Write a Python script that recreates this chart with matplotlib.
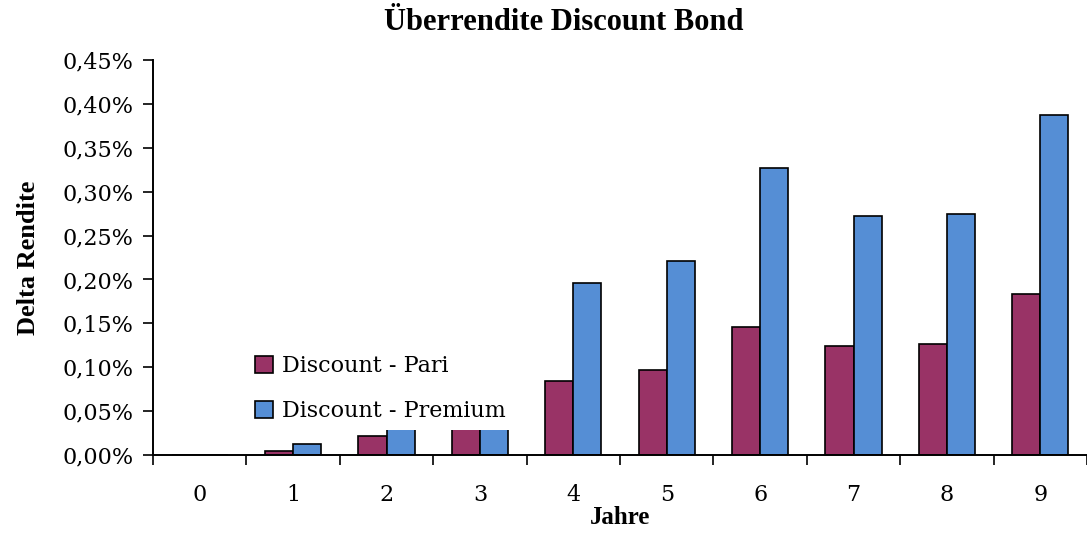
import matplotlib.pyplot as plt
import numpy as np
from matplotlib.ticker import FuncFormatter, FixedLocator
from matplotlib.patches import Rectangle

years = [0, 1, 2, 3, 4, 5, 6, 7, 8, 9]
pari = [0.0, 0.0046, 0.0216, 0.040, 0.0843, 0.0968, 0.146, 0.124, 0.126, 0.183]
premium = [0.0, 0.0125, 0.040, 0.050, 0.196, 0.221, 0.327, 0.272, 0.275, 0.387]

plt.rcParams['font.family'] = ['DejaVu Serif']

fig = plt.figure(figsize=(10.87, 5.35), dpi=100)
ax = fig.add_axes([153 / 1087, 80 / 535, 934 / 1087, 395 / 535])

x = np.arange(len(years))
w = 0.3
ax.bar(x - w / 2, pari, w, color='#993366', edgecolor='black', linewidth=1.2,
       label='Discount - Pari', zorder=2)
ax.bar(x + w / 2, premium, w, color='#558ED5', edgecolor='black', linewidth=1.2,
       label='Discount - Premium', zorder=2)

ax.set_xlim(-0.5, 9.5)
ax.set_ylim(0, 0.45)
ax.set_yticks(np.arange(0, 0.451, 0.05))
ax.yaxis.set_major_formatter(FuncFormatter(lambda v, p: f'{v:.2f}%'.replace('.', ',')))
ax.set_xticks(x)
ax.set_xticklabels([str(y) for y in years])
ax.xaxis.set_minor_locator(FixedLocator(np.arange(-0.5, 9.6, 1)))
ax.tick_params(axis='x', which='major', length=0, pad=21, labelsize=16)
ax.tick_params(axis='x', which='minor', length=7, width=1.2, direction='out')
ax.tick_params(axis='y', length=7, width=1.2, direction='out', labelsize=16, pad=7)

for s in ['top', 'right']:
    ax.spines[s].set_visible(False)
for s in ['left', 'bottom']:
    ax.spines[s].set_linewidth(1.4)

fig.text(564 / 1087, 1 - 22 / 535, 'Überrendite Discount Bond', fontsize=22,
         fontweight='bold', family='Liberation Serif', ha='center', va='center')
ax.set_xlabel('Jahre', fontsize=18, fontweight='bold', family='Liberation Serif',
              labelpad=0)
ax.set_ylabel('Delta Rendite', fontsize=19, fontweight='bold', family='Liberation Serif',
              labelpad=16)

# white box behind the legend, hides the low bars as in the original
ax.add_patch(Rectangle((0.1, 0.063), 0.3, 0.23, transform=ax.transAxes,
                       facecolor='white', edgecolor='none', zorder=4))
leg = ax.legend(loc='upper left', bbox_to_anchor=(0.102, 0.27), frameon=False,
                fontsize=16, handlelength=0.8, handleheight=0.8, handletextpad=0.4,
                labelspacing=1.05, borderpad=0.3, borderaxespad=0)
leg.set_zorder(5)

fig.savefig('out.png', dpi=100)
